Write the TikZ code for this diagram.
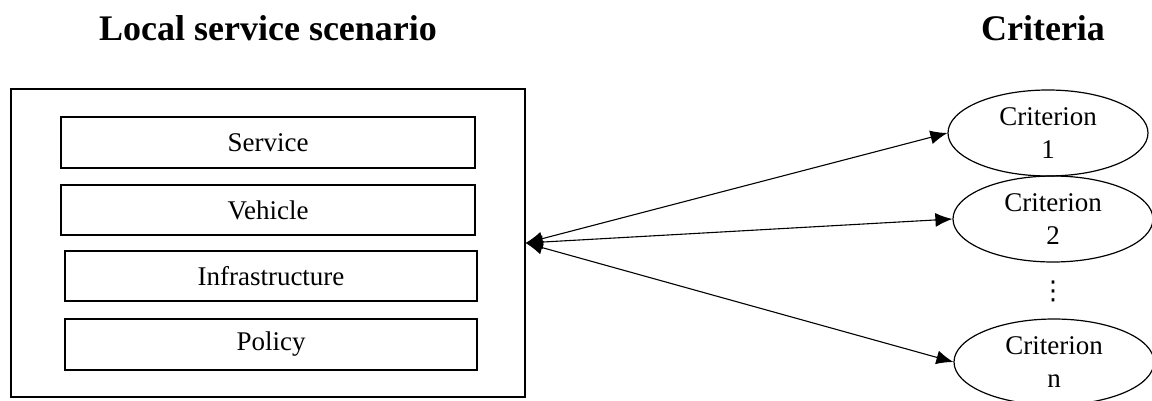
\documentclass[tikz,border=0pt]{standalone}
\usepackage{fontspec}
\setmainfont{Liberation Serif}
\newfontfamily\symfont{DejaVu Sans}
\usetikzlibrary{shapes.geometric,arrows.meta}
\begin{document}
\begin{tikzpicture}[x=1pt,y=-1pt,
  line width=1.2pt,
  txt/.style={font=\fontsize{27}{33}\selectfont},
  title/.style={font=\fontsize{36}{40}\selectfont\bfseries, anchor=base},
  layer/.style={draw, txt, inner sep=0pt},
  crit/.style={draw, ellipse, txt, align=center, inner sep=0pt, minimum width=200pt, minimum height=86pt},
  conn/.style={{Latex[length=17pt,width=14pt]}-{Latex[length=17pt,width=14pt]}, line width=1.1pt}]
\useasboundingbox (0,0) rectangle (1152,401);
\node[title] (t1) at (268,41) {Local service scenario};
\node[title] (t2) at (1043,41) {Criteria};
\node[draw, minimum width=514pt, minimum height=308pt, inner sep=0pt] (outer) at (268,243) {};
\node[layer, minimum width=414pt, minimum height=51pt] (s) at (268,142.5) {Service};
\node[layer, minimum width=414pt, minimum height=50pt] (v) at (268,210) {Vehicle};
\node[layer, minimum width=412pt, minimum height=50pt] (i) at (271,276) {Infrastructure};
\node[layer, minimum width=412pt, minimum height=51pt] (p) at (271,344.5) {Policy};
\node[crit] (c1) at (1048,133) {Criterion\\1};
\node[crit] (c2) at (1053,219) {Criterion\\2};
\node[font=\symfont\fontsize{26}{26}\selectfont, inner sep=0pt] (dots) at (1053,291) {⋮};
\node[crit] (cn) at (1054,362) {Criterion\\n};
\draw[conn] (outer.east) -- (c1.west);
\draw[conn] (outer.east) -- (c2.west);
\draw[conn] (outer.east) -- (cn.west);
\end{tikzpicture}
\end{document}
